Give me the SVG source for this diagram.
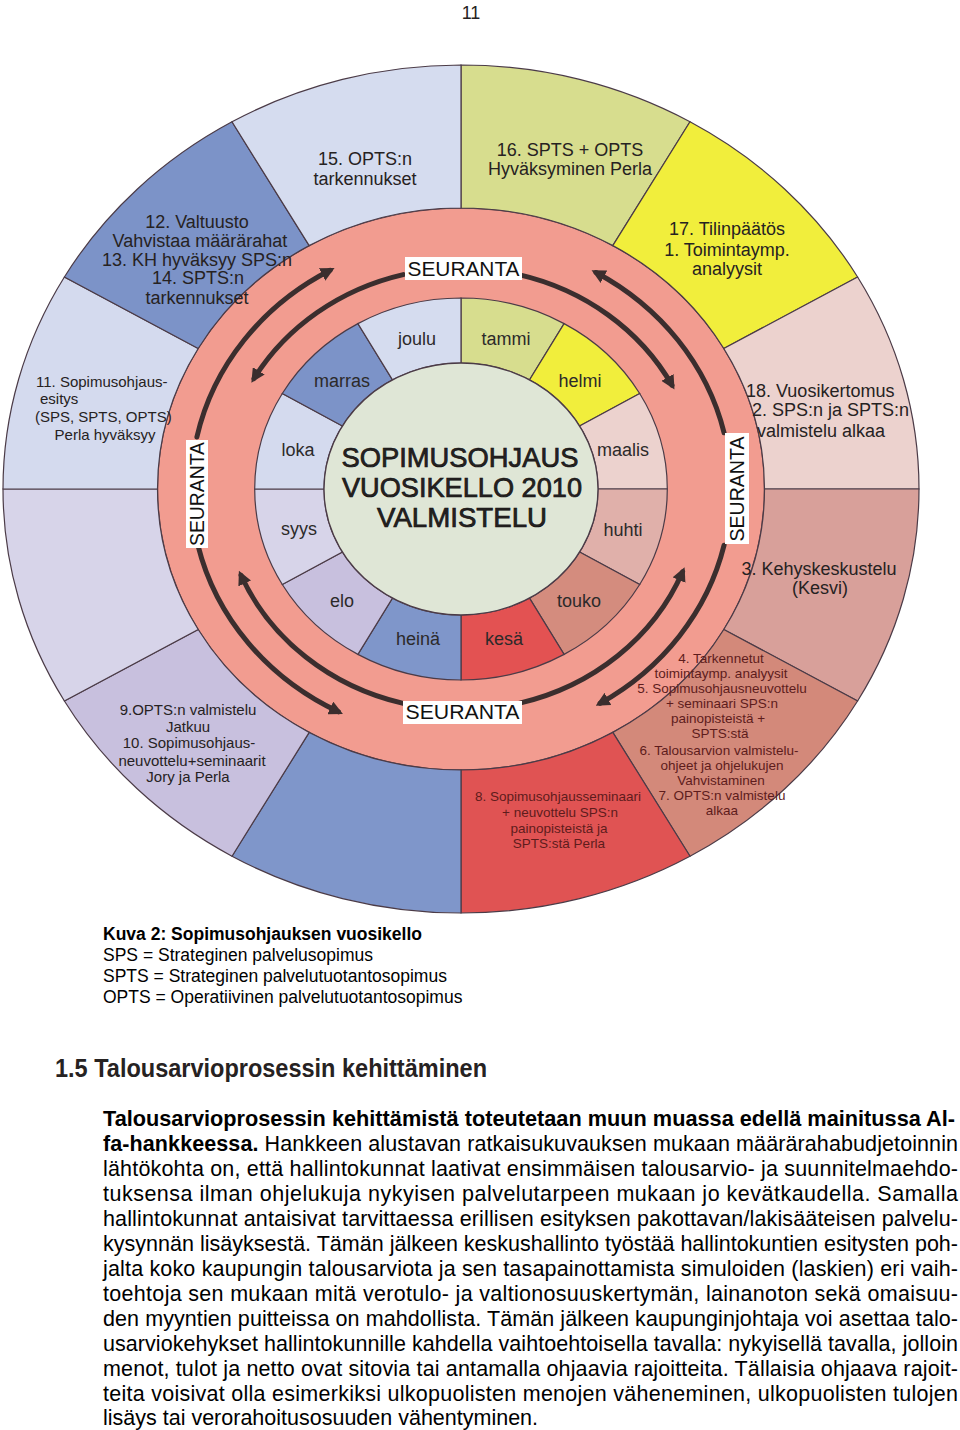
<svg xmlns="http://www.w3.org/2000/svg" width="960" height="1430" viewBox="0 0 960 1430">
<defs>
<style>
.t{font-family:'Liberation Sans',Arial,sans-serif;fill:#262222}
.lab{font-size:18px;text-anchor:middle}
.s15{font-size:15px}
.s13{font-size:13.5px;text-anchor:middle;fill:#5e1c1c}
.mon{font-size:18px;text-anchor:middle;fill:#2c2a2a}
.sec{stroke:#4b3b47;stroke-width:1.2}
.sr{font-size:20px;fill:#111;text-anchor:middle}
.arr{fill:none;stroke:#3b2e2e;stroke-width:5;stroke-linecap:round;marker-end:url(#ah)}
.cap{font-size:17.5px;fill:#000}
.body{font-size:21.5px;fill:#000}
</style>
<marker id="ah" viewBox="0 0 14 14" refX="9" refY="7" markerWidth="14" markerHeight="14" markerUnits="userSpaceOnUse" orient="auto">
<path d="M0,0 L14,7 L0,14 Z" fill="#3b2e2e"/>
</marker>
</defs>
<rect width="960" height="1430" fill="#fff"/>
<text class="t" x="471" y="19" font-size="18" text-anchor="middle" fill="#000">11</text>

<g id="ring">
<ellipse cx="461" cy="489" rx="303.5" ry="281" fill="#f29c90" stroke="#5a3c45" stroke-width="1.3"/>
</g>

<g id="outer-sectors">
<g id="s16">
<path class="sec" fill="#d7dd8e" d="M461,65 A458,424 0 0 1 690,121.8 L612.8,245.6 A303.5,281 0 0 0 461,208 Z"/>
<text class="t lab" x="570" y="156">16. SPTS + OPTS</text>
<text class="t lab" x="570" y="175">Hyväksyminen Perla</text>
</g>
<g id="s17">
<path class="sec" fill="#f1ee3c" d="M690,121.8 A458,424 0 0 1 857.6,277 L723.8,348.5 A303.5,281 0 0 0 612.8,245.6 Z"/>
<text class="t lab" x="727" y="235">17. Tilinpäätös</text>
<text class="t lab" x="727" y="256">1. Toimintaymp.</text>
<text class="t lab" x="727" y="275">analyysit</text>
</g>
<g id="s18">
<path class="sec" fill="#ecd2ce" d="M857.6,277 A458,424 0 0 1 919,489 L764.5,489 A303.5,281 0 0 0 723.8,348.5 Z"/>
<text class="t" font-size="18" x="746" y="397">18. Vuosikertomus</text>
<text class="t" font-size="18" x="752" y="416">2. SPS:n ja SPTS:n</text>
<text class="t" font-size="18" x="757" y="437">valmistelu alkaa</text>
</g>
<g id="s3">
<path class="sec" fill="#d8a09a" d="M919,489 A458,424 0 0 1 857.6,701 L723.8,629.5 A303.5,281 0 0 0 764.5,489 Z"/>
<text class="t lab" x="819" y="575">3. Kehyskeskustelu</text>
<text class="t lab" x="820" y="594">(Kesvi)</text>
</g>
<g id="s4-7">
<path class="sec" fill="#d3897a" d="M857.6,701 A458,424 0 0 1 690,856.2 L612.8,732.4 A303.5,281 0 0 0 723.8,629.5 Z"/>
<text class="t s13" x="721" y="663">4. Tarkennetut</text>
<text class="t s13" x="721" y="678">toimintaymp. analyysit</text>
<text class="t s13" x="722" y="693">5. Sopimusohjausneuvottelu</text>
<text class="t s13" x="722" y="708">+ seminaari SPS:n</text>
<text class="t s13" x="718" y="723">painopisteistä +</text>
<text class="t s13" x="720" y="738">SPTS:stä</text>
<text class="t s13" x="719" y="755">6. Talousarvion valmistelu-</text>
<text class="t s13" x="722" y="770">ohjeet ja ohjelukujen</text>
<text class="t s13" x="721" y="785">Vahvistaminen</text>
<text class="t s13" x="722" y="800">7. OPTS:n valmistelu</text>
<text class="t s13" x="722" y="815">alkaa</text>
</g>
<g id="s8">
<path class="sec" fill="#e05353" d="M690,856.2 A458,424 0 0 1 461,913 L461,770 A303.5,281 0 0 0 612.8,732.4 Z"/>
<text class="t s13" x="558" y="801">8. Sopimusohjausseminaari</text>
<text class="t s13" x="560" y="817">+ neuvottelu SPS:n</text>
<text class="t s13" x="559" y="833">painopisteistä ja</text>
<text class="t s13" x="559" y="848">SPTS:stä Perla</text>
</g>
<g id="s-heina-outer">
<path class="sec" fill="#7f96ca" d="M461,913 A458,424 0 0 1 232,856.2 L309.2,732.4 A303.5,281 0 0 0 461,770 Z"/>
</g>
<g id="s9-10">
<path class="sec" fill="#c8c0de" d="M232,856.2 A458,424 0 0 1 64.4,701 L198.2,629.5 A303.5,281 0 0 0 309.2,732.4 Z"/>
<text class="t s15" text-anchor="middle" x="188" y="715">9.OPTS:n valmistelu</text>
<text class="t s15" text-anchor="middle" x="188" y="732">Jatkuu</text>
<text class="t s15" text-anchor="middle" x="189" y="748">10. Sopimusohjaus-</text>
<text class="t s15" text-anchor="middle" x="192" y="766">neuvottelu+seminaarit</text>
<text class="t s15" text-anchor="middle" x="188" y="782">Jory ja Perla</text>
</g>
<g id="s-syys-outer">
<path class="sec" fill="#d7d4e9" d="M64.4,701 A458,424 0 0 1 3,489 L157.5,489 A303.5,281 0 0 0 198.2,629.5 Z"/>
</g>
<g id="s11">
<path class="sec" fill="#d4daee" d="M3,489 A458,424 0 0 1 64.4,277 L198.2,348.5 A303.5,281 0 0 0 157.5,489 Z"/>
<text class="t s15" x="36" y="387">11. Sopimusohjaus-</text>
<text class="t s15" x="40" y="404">esitys</text>
<text class="t s15" x="35" y="422">(SPS, SPTS, OPTS)</text>
<text class="t s15" text-anchor="middle" x="105" y="440">Perla hyväksyy</text>
</g>
<g id="s12-14">
<path class="sec" fill="#7c93c8" d="M64.4,277 A458,424 0 0 1 232,121.8 L309.2,245.6 A303.5,281 0 0 0 198.2,348.5 Z"/>
<text class="t lab" x="197" y="228">12. Valtuusto</text>
<text class="t lab" x="200" y="247">Vahvistaa määrärahat</text>
<text class="t lab" x="197" y="266">13. KH hyväksyy SPS:n</text>
<text class="t lab" x="198" y="284">14. SPTS:n</text>
<text class="t lab" x="197" y="304">tarkennukset</text>
</g>
<g id="s15">
<path class="sec" fill="#d5dcef" d="M232,121.8 A458,424 0 0 1 461,65 L461,208 A303.5,281 0 0 0 309.2,245.6 Z"/>
<text class="t lab" x="365" y="165">15. OPTS:n</text>
<text class="t lab" x="365" y="185">tarkennukset</text>
</g>
</g>

<g id="months">
<g id="m-tammi"><path class="sec" fill="#d7dd8e" d="M461,298 A206.3,191 0 0 1 564.1,323.6 L529.5,379.9 A137,126 0 0 0 461,363 Z"/><text class="t mon" x="506" y="345">tammi</text></g>
<g id="m-helmi"><path class="sec" fill="#f1ee3c" d="M564.1,323.6 A206.3,191 0 0 1 639.7,393.5 L579.6,426 A137,126 0 0 0 529.5,379.9 Z"/><text class="t mon" x="580" y="387">helmi</text></g>
<g id="m-maalis"><path class="sec" fill="#ecd2ce" d="M639.7,393.5 A206.3,191 0 0 1 667.3,489 L598,489 A137,126 0 0 0 579.6,426 Z"/><text class="t mon" x="623" y="456">maalis</text></g>
<g id="m-huhti"><path class="sec" fill="#e0b0aa" d="M667.3,489 A206.3,191 0 0 1 639.7,584.5 L579.6,552 A137,126 0 0 0 598,489 Z"/><text class="t mon" x="623" y="536">huhti</text></g>
<g id="m-touko"><path class="sec" fill="#d48c7e" d="M639.7,584.5 A206.3,191 0 0 1 564.1,654.4 L529.5,598.1 A137,126 0 0 0 579.6,552 Z"/><text class="t mon" x="579" y="607">touko</text></g>
<g id="m-kesa"><path class="sec" fill="#e35252" d="M564.1,654.4 A206.3,191 0 0 1 461,680 L461,615 A137,126 0 0 0 529.5,598.1 Z"/><text class="t mon" x="504" y="645">kesä</text></g>
<g id="m-heina"><path class="sec" fill="#7f96ca" d="M461,680 A206.3,191 0 0 1 357.9,654.4 L392.5,598.1 A137,126 0 0 0 461,615 Z"/><text class="t mon" x="418" y="645">heinä</text></g>
<g id="m-elo"><path class="sec" fill="#c8c0de" d="M357.9,654.4 A206.3,191 0 0 1 282.3,584.5 L342.4,552 A137,126 0 0 0 392.5,598.1 Z"/><text class="t mon" x="342" y="607">elo</text></g>
<g id="m-syys"><path class="sec" fill="#d7d4e9" d="M282.3,584.5 A206.3,191 0 0 1 254.7,489 L324,489 A137,126 0 0 0 342.4,552 Z"/><text class="t mon" x="299" y="535">syys</text></g>
<g id="m-loka"><path class="sec" fill="#d4daee" d="M254.7,489 A206.3,191 0 0 1 282.3,393.5 L342.4,426 A137,126 0 0 0 324,489 Z"/><text class="t mon" x="298" y="456">loka</text></g>
<g id="m-marras"><path class="sec" fill="#7c93c8" d="M282.3,393.5 A206.3,191 0 0 1 357.9,323.6 L392.5,379.9 A137,126 0 0 0 342.4,426 Z"/><text class="t mon" x="342" y="387">marras</text></g>
<g id="m-joulu"><path class="sec" fill="#d5dcef" d="M357.9,323.6 A206.3,191 0 0 1 461,298 L461,363 A137,126 0 0 0 392.5,379.9 Z"/><text class="t mon" x="417" y="345">joulu</text></g>
</g>

<g id="center">
<ellipse cx="461" cy="489" rx="137" ry="126" fill="#dfe6d6" stroke="#4b3b47" stroke-width="1.3"/>
<text class="t" font-size="28" text-anchor="middle" x="460" y="467" textLength="237" lengthAdjust="spacingAndGlyphs" fill="#111" stroke="#111" stroke-width="0.7">SOPIMUSOHJAUS</text>
<text class="t" font-size="28" text-anchor="middle" x="462" y="497" textLength="240" lengthAdjust="spacingAndGlyphs" fill="#111" stroke="#111" stroke-width="0.7">VUOSIKELLO 2010</text>
<text class="t" font-size="28" text-anchor="middle" x="462" y="527" textLength="170" lengthAdjust="spacingAndGlyphs" fill="#111" stroke="#111" stroke-width="0.7">VALMISTELU</text>
</g>

<g id="connectors">
<path class="arr" d="M196.9,437 A270,250 0 0 1 330.1,270.3"/>
<path class="arr" d="M724.1,432.8 A270,250 0 0 0 596,272.5"/>
<path class="arr" d="M724.1,545.2 A270,250 0 0 1 600.1,703.3"/>
<path class="arr" d="M197.9,545.2 A270,250 0 0 0 338.4,711.8"/>
<path class="arr" d="M403.2,274.6 A239,221 0 0 0 254,378.5"/>
<path class="arr" d="M518.8,274.6 A239,221 0 0 1 672,385.2"/>
<path class="arr" d="M518.8,703.4 A239,221 0 0 0 682.6,571.8"/>
<path class="arr" d="M403.2,703.4 A239,221 0 0 1 241,575.3"/>
</g>

<g id="seuranta-top"><rect x="405" y="257" width="117" height="23" fill="#fff"/><text class="t sr" x="463.5" y="276" textLength="112" lengthAdjust="spacingAndGlyphs">SEURANTA</text></g>
<g id="seuranta-bottom"><rect x="403" y="701" width="119" height="23" fill="#fff"/><text class="t sr" x="462.5" y="719" textLength="114" lengthAdjust="spacingAndGlyphs">SEURANTA</text></g>
<g id="seuranta-left"><rect x="186" y="440" width="22" height="108" fill="#fff"/><text class="t sr" transform="translate(204,494) rotate(-90)" x="0" y="0" textLength="104" lengthAdjust="spacingAndGlyphs">SEURANTA</text></g>
<g id="seuranta-right"><rect x="725" y="433" width="24" height="111" fill="#fff"/><text class="t sr" transform="translate(744,489) rotate(-90)" x="0" y="0" textLength="105" lengthAdjust="spacingAndGlyphs">SEURANTA</text></g>

<g id="caption">
<text class="t cap" x="103" y="940" font-weight="bold">Kuva 2: Sopimusohjauksen vuosikello</text>
<text class="t cap" x="103" y="961">SPS = Strateginen palvelusopimus</text>
<text class="t cap" x="103" y="982">SPTS = Strateginen palvelutuotantosopimus</text>
<text class="t cap" x="103" y="1003">OPTS = Operatiivinen palvelutuotantosopimus</text>
</g>

<g id="body">
<text class="t" x="55" y="1077" font-size="25" font-weight="bold" fill="#000" textLength="432" lengthAdjust="spacingAndGlyphs">1.5 Talousarvioprosessin kehittäminen</text>
<text class="t body" x="103" y="1126" font-weight="bold" textLength="852" lengthAdjust="spacingAndGlyphs">Talousarvioprosessin kehittämistä toteutetaan muun muassa edellä mainitussa Al-</text>
<text class="t body" x="103" y="1151" textLength="855" lengthAdjust="spacing"><tspan font-weight="bold">fa-hankkeessa.</tspan> Hankkeen alustavan ratkaisukuvauksen mukaan määrärahabudjetoinnin</text>
<text class="t body" x="103" y="1176" textLength="855" lengthAdjust="spacing">lähtökohta on, että hallintokunnat laativat ensimmäisen talousarvio- ja suunnitelmaehdo-</text>
<text class="t body" x="103" y="1201" textLength="855" lengthAdjust="spacing">tuksensa ilman ohjelukuja nykyisen palvelutarpeen mukaan jo kevätkaudella. Samalla</text>
<text class="t body" x="103" y="1226" textLength="855" lengthAdjust="spacing">hallintokunnat antaisivat tarvittaessa erillisen esityksen pakottavan/lakisääteisen palvelu-</text>
<text class="t body" x="103" y="1251" textLength="855" lengthAdjust="spacing">kysynnän lisäyksestä. Tämän jälkeen keskushallinto työstää hallintokuntien esitysten poh-</text>
<text class="t body" x="103" y="1276" textLength="855" lengthAdjust="spacing">jalta koko kaupungin talousarviota ja sen tasapainottamista simuloiden (laskien) eri vaih-</text>
<text class="t body" x="103" y="1301" textLength="855" lengthAdjust="spacing">toehtoja sen mukaan mitä verotulo- ja valtionosuuskertymän, lainanoton sekä omaisuu-</text>
<text class="t body" x="103" y="1326" textLength="855" lengthAdjust="spacing">den myyntien puitteissa on mahdollista. Tämän jälkeen kaupunginjohtaja voi asettaa talo-</text>
<text class="t body" x="103" y="1351" textLength="855" lengthAdjust="spacing">usarviokehykset hallintokunnille kahdella vaihtoehtoisella tavalla: nykyisellä tavalla, jolloin</text>
<text class="t body" x="103" y="1376" textLength="855" lengthAdjust="spacing">menot, tulot ja netto ovat sitovia tai antamalla ohjaavia rajoitteita. Tällaisia ohjaava rajoit-</text>
<text class="t body" x="103" y="1401" textLength="855" lengthAdjust="spacing">teita voisivat olla esimerkiksi ulkopuolisten menojen väheneminen, ulkopuolisten tulojen</text>
<text class="t body" x="103" y="1425">lisäys tai verorahoitusosuuden vähentyminen.</text>
</g>
</svg>
